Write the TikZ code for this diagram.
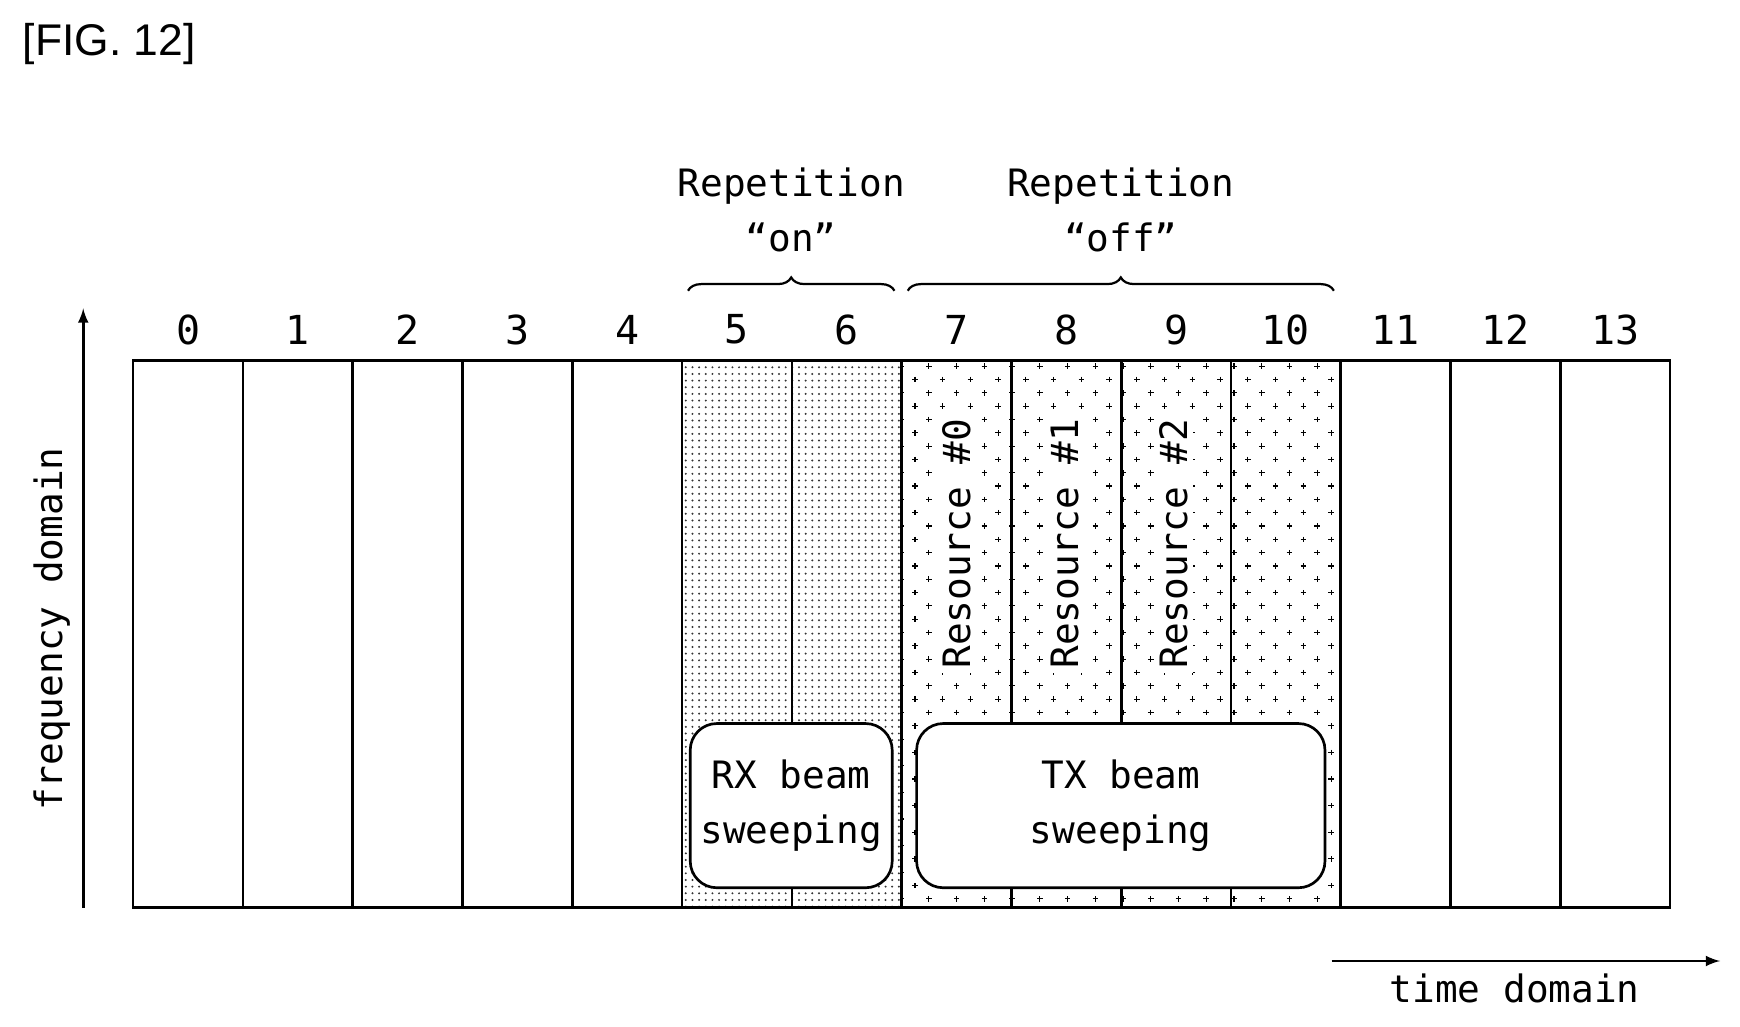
\documentclass[tikz,border=0pt]{standalone}
\usepackage{fontspec}
\setmainfont{Liberation Sans}
\newfontfamily\gfont{DejaVu Sans Mono}[Scale=1]
\usetikzlibrary{patterns,decorations.pathreplacing}
\begin{document}
\begin{tikzpicture}[x=0.5pt,y=-0.5pt,
  lab/.style={font=\gfont\fontsize{17}{20}\selectfont, inner sep=0},
  num/.style={font=\gfont\fontsize{18}{20}\selectfont, inner sep=0},
  rb/.style={draw, line width=1.2pt, rounded corners=12pt, fill=white},
  line width=1pt]
\useasboundingbox (0,0) rectangle (1568,925);
\node[anchor=west,font=\fontsize{20}{24}\selectfont] (fig) at (13,40) {[FIG. 12]};
% patterns
\fill[pattern=dots, pattern color=black!80] (614.5,325) rectangle (812,818);
\begin{scope}
\clip (812,325) rectangle (1208,818);
\foreach \i in {0,...,17}{\foreach \j in {0,...,42}{
  \pgfmathsetmacro{\xx}{812+\i*25+mod(\j,2)*12.5}
  \pgfmathsetmacro{\yy}{330+\j*12}
  \draw[line width=0.5pt] (\xx-2.5,\yy) -- (\xx+2.5,\yy) (\xx,\yy-2.5) -- (\xx,\yy+2.5);}}
\end{scope}
% grid
\draw[line width=1.2pt] (120,325) rectangle (1505,818);
\foreach \k in {1,...,13}{\draw[line width=1.2pt] ({120+\k*98.93},325) -- ({120+\k*98.93},818);}
\foreach \k in {0,...,13}{\node[num] (n\k) at ({169.5+\k*98.93},297) {\k};}
% resource labels
\foreach \k/\c in {0/862,1/960,2/1058}{\node[lab,rotate=90,fill=white,inner sep=2pt] (r\k) at (\c,490) {Resource \#\k};}
% rounded boxes
\node[rb, minimum width=91pt, minimum height=74pt, align=center, font=\gfont\fontsize{17}{25}\selectfont] (rx) at (713,726) {RX beam\\sweeping};
\node[rb, minimum width=184pt, minimum height=74pt, align=center, font=\gfont\fontsize{17}{25}\selectfont] (tx) at (1010,726) {TX beam\\sweeping};
% braces
\draw[decorate, decoration={brace, amplitude=6pt}] (620,262) -- (806,262);
\draw[decorate, decoration={brace, amplitude=6pt}] (818,262) -- (1202,262);
\node[lab, align=center, font=\gfont\fontsize{17}{25}\selectfont] (on) at (713,189) {Repetition\\“on”};
\node[lab, align=center, font=\gfont\fontsize{17}{25}\selectfont] (off) at (1010,189) {Repetition\\“off”};
% axes
\coordinate (fa) at (75,818); \coordinate (fb) at (75,278);
\draw[-latex, line width=1.2pt] (fa) -- (fb);
\node[lab, rotate=90] (fd) at (47,567) {frequency domain};
\coordinate (ta) at (1200,866); \coordinate (tb) at (1550,866);
\draw[-latex, line width=1.2pt] (ta) -- (tb);
\node[lab] (td) at (1365,891) {time domain};
\end{tikzpicture}
\end{document}
